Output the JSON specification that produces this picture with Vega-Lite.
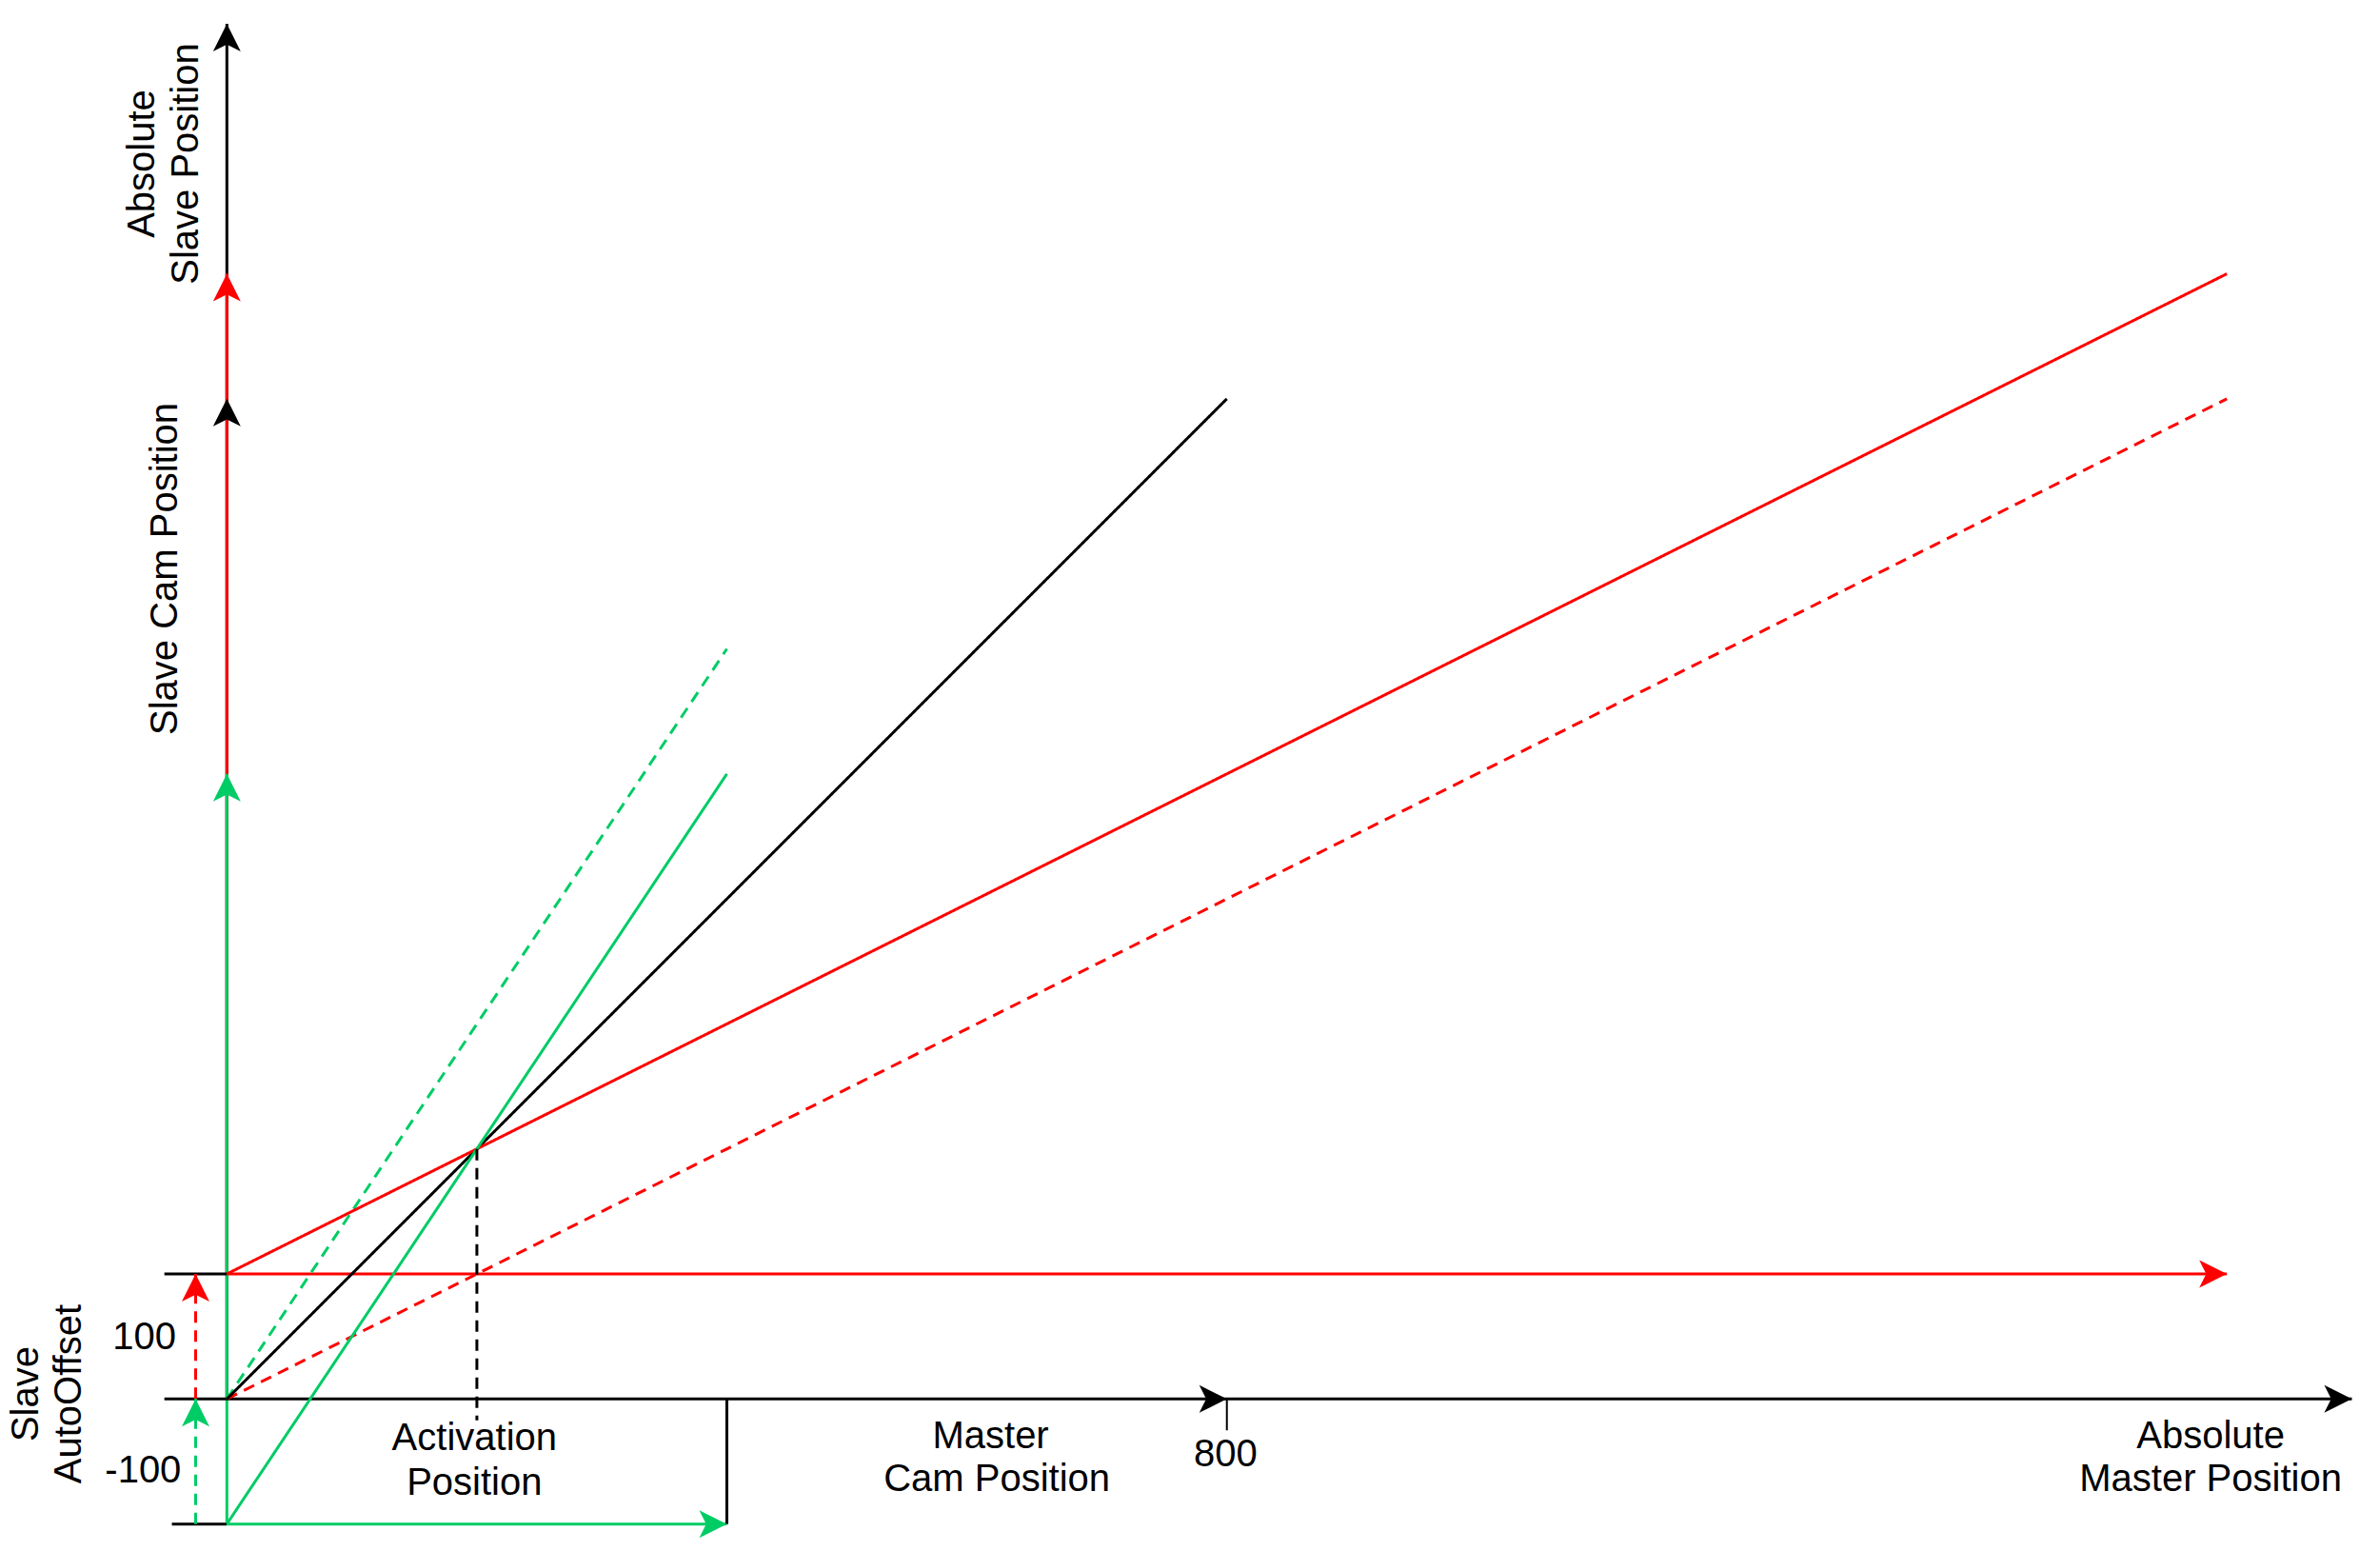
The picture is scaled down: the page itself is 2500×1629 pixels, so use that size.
{
  "$schema": "https://vega.github.io/schema/vega-lite/v6.json",
  "width": 2500,
  "height": 1629,
  "autosize": {"type": "fit", "contains": "padding"},
  "padding": 0,
  "background": "white",
  "config": {"view": {"stroke": null}},
  "datasets": {
    "segments": [
      {"x": 0, "y": 0, "x2": 0, "y2": 1100, "group": "base", "style": "solid", "role": "line"},
      {"x": 0, "y": 100, "x2": 0, "y2": 900, "group": "plus100", "style": "solid", "role": "line"},
      {"x": 0, "y": -100, "x2": 0, "y2": 500, "group": "minus100", "style": "solid", "role": "line"},
      {"x": -50, "y": 0, "x2": 1700, "y2": 0, "group": "base", "style": "solid", "role": "line"},
      {"x": -50, "y": 100, "x2": 0, "y2": 100, "group": "base", "style": "solid", "role": "line"},
      {"x": 0, "y": 100, "x2": 1600, "y2": 100, "group": "plus100", "style": "solid", "role": "line"},
      {"x": -44, "y": -100, "x2": 0, "y2": -100, "group": "base", "style": "solid", "role": "line"},
      {"x": 0, "y": -100, "x2": 400, "y2": -100, "group": "minus100", "style": "solid", "role": "line"},
      {"x": 400, "y": 0, "x2": 400, "y2": -100, "group": "base", "style": "solid", "role": "line"},
      {"x": 800, "y": 0, "x2": 800, "y2": -25, "group": "base", "style": "solid", "role": "tick"},
      {"x": 0, "y": 0, "x2": 1600, "y2": 800, "group": "plus100", "style": "dashed", "role": "line"},
      {"x": 0, "y": 0, "x2": 400, "y2": 600, "group": "minus100", "style": "dashed", "role": "line"},
      {"x": 0, "y": 0, "x2": 800, "y2": 800, "group": "base", "style": "solid", "role": "line"},
      {"x": 0, "y": 100, "x2": 1600, "y2": 900, "group": "plus100", "style": "solid", "role": "line"},
      {"x": 0, "y": -100, "x2": 400, "y2": 500, "group": "minus100", "style": "solid", "role": "line"},
      {"x": 200, "y": 200, "x2": 200, "y2": -17, "group": "base", "style": "dashed", "role": "line"},
      {"x": -25, "y": 0, "x2": -25, "y2": 100, "group": "plus100", "style": "dashed", "role": "line"},
      {"x": -25, "y": -100, "x2": -25, "y2": 0, "group": "minus100", "style": "dashed", "role": "line"}
    ],
    "arrows": [
      {"x": 0, "y": 1100, "group": "base", "dir": "up"},
      {"x": 0, "y": 900, "group": "plus100", "dir": "up"},
      {"x": 0, "y": 800, "group": "base", "dir": "up"},
      {"x": 0, "y": 500, "group": "minus100", "dir": "up"},
      {"x": -25, "y": 100, "group": "plus100", "dir": "up"},
      {"x": -25, "y": 0, "group": "minus100", "dir": "up"},
      {"x": 800, "y": 0, "group": "base", "dir": "right"},
      {"x": 1700, "y": 0, "group": "base", "dir": "right"},
      {"x": 1600, "y": 100, "group": "plus100", "dir": "right"},
      {"x": 400, "y": -100, "group": "minus100", "dir": "right"}
    ],
    "labels": [
      {"label": "100", "x": -66, "y": 40, "orient": "h"},
      {"label": "-100", "x": -67, "y": -67, "orient": "h"},
      {"label": "Activation", "x": 198, "y": -41, "orient": "h"},
      {"label": "Position", "x": 198, "y": -77, "orient": "h"},
      {"label": "Master", "x": 611, "y": -39, "orient": "h"},
      {"label": "Cam Position", "x": 616, "y": -74, "orient": "h"},
      {"label": "800", "x": 799, "y": -54, "orient": "h"},
      {"label": "Absolute", "x": 1587, "y": -39, "orient": "h"},
      {"label": "Master Position", "x": 1587, "y": -74, "orient": "h"},
      {"label": "Absolute", "x": -58, "y": 988, "orient": "v"},
      {"label": "Slave Position", "x": -23, "y": 988, "orient": "v"},
      {"label": "Slave Cam Position", "x": -40, "y": 664, "orient": "v"},
      {"label": "Slave", "x": -151, "y": 4, "orient": "v"},
      {"label": "AutoOffset", "x": -117, "y": 4, "orient": "v"}
    ]
  },
  "encoding": {
    "x": {
      "field": "x",
      "type": "quantitative",
      "scale": {"domain": [-181.5, 1722.5], "nice": false, "zero": false},
      "axis": null
    },
    "y": {
      "field": "y",
      "type": "quantitative",
      "scale": {"domain": [-121.6, 1119], "nice": false, "zero": false},
      "axis": null
    }
  },
  "layer": [
    {
      "data": {"name": "segments"},
      "mark": {"type": "rule"},
      "encoding": {
        "x2": {"field": "x2"},
        "y2": {"field": "y2"},
        "color": {
          "field": "group",
          "type": "nominal",
          "scale": {"domain": ["base", "plus100", "minus100"], "range": ["#000000", "#FF0000", "#00CC66"]},
          "legend": null
        },
        "strokeDash": {
          "field": "style",
          "type": "nominal",
          "scale": {"domain": ["solid", "dashed"], "range": [[1, 0], [12, 8]]},
          "legend": null
        },
        "strokeWidth": {
          "field": "role",
          "type": "nominal",
          "scale": {"domain": ["line", "tick"], "range": [3, 2]},
          "legend": null
        }
      }
    },
    {
      "data": {"name": "arrows"},
      "transform": [{"filter": "datum.dir == 'up'"}],
      "mark": {
        "type": "point",
        "shape": "M0,0 L0.5,1 L0,0.75 L-0.5,1 Z",
        "size": 3364,
        "filled": true,
        "opacity": 1,
        "strokeWidth": 0,
        "angle": 0
      },
      "encoding": {
        "color": {"field": "group", "type": "nominal", "legend": null}
      }
    },
    {
      "data": {"name": "arrows"},
      "transform": [{"filter": "datum.dir == 'right'"}],
      "mark": {
        "type": "point",
        "shape": "M0,0 L0.5,1 L0,0.75 L-0.5,1 Z",
        "size": 3364,
        "filled": true,
        "opacity": 1,
        "strokeWidth": 0,
        "angle": 90
      },
      "encoding": {
        "color": {"field": "group", "type": "nominal", "legend": null}
      }
    },
    {
      "data": {"name": "labels"},
      "transform": [{"filter": "datum.orient == 'h'"}],
      "mark": {
        "type": "text",
        "font": "Liberation Sans",
        "fontSize": 40,
        "align": "center",
        "baseline": "alphabetic",
        "color": "#000000"
      },
      "encoding": {"text": {"field": "label"}}
    },
    {
      "data": {"name": "labels"},
      "transform": [{"filter": "datum.orient == 'v'"}],
      "mark": {
        "type": "text",
        "font": "Liberation Sans",
        "fontSize": 40,
        "align": "center",
        "baseline": "alphabetic",
        "angle": 270,
        "color": "#000000"
      },
      "encoding": {"text": {"field": "label"}}
    }
  ]
}
